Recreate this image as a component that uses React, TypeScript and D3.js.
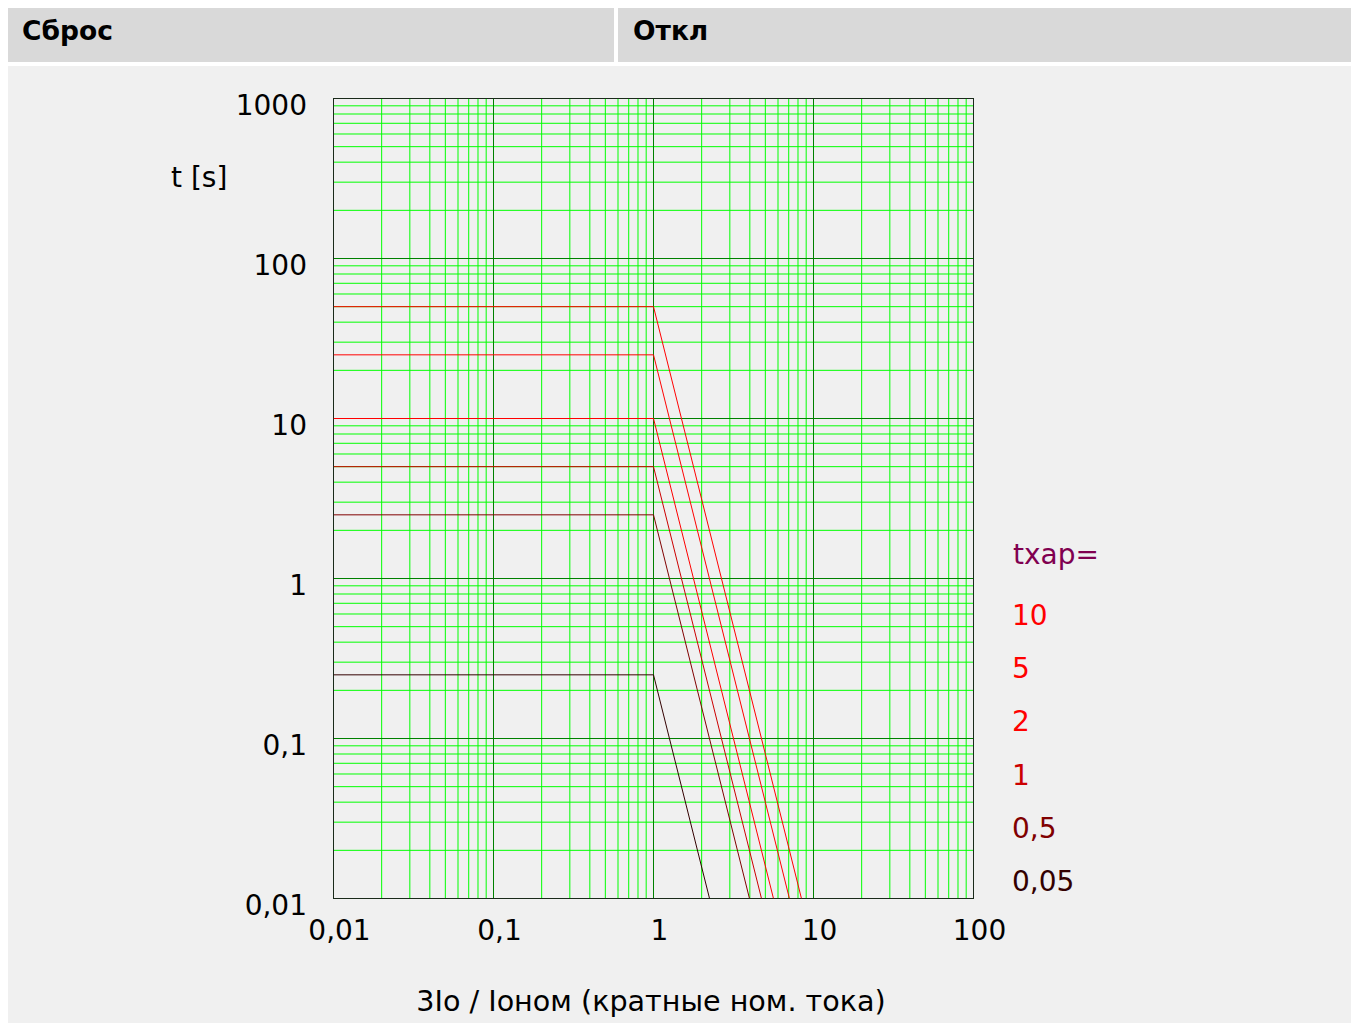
import React from "react";
import * as d3 from "d3";

// ---- data ----
const txapLabels = ["10", "5", "2", "1", "0,5", "0,05"];
const txapColors = ["#ff0000", "#ff0000", "#ff0000", "#cc0000", "#800000", "#330000"];
// each curve: [current multiple, time s]
const curve10: [number, number][] = [[0.01, 50], [1, 50], [8.41, 0.01]];
const curve5: [number, number][] = [[0.01, 25], [1, 25], [7.07, 0.01]];
const curve2: [number, number][] = [[0.01, 10], [1, 10], [5.62, 0.01]];
const curve1: [number, number][] = [[0.01, 5], [1, 5], [4.73, 0.01]];
const curve05: [number, number][] = [[0.01, 2.5], [1, 2.5], [3.98, 0.01]];
const curve005: [number, number][] = [[0.01, 0.25], [1, 0.25], [2.24, 0.01]];
const curves = [curve10, curve5, curve2, curve1, curve05, curve005];

const xTicks = [0.01, 0.1, 1, 10, 100];
const xTickLabels = ["0,01", "0,1", "1", "10", "100"];
const yTicks = [0.01, 0.1, 1, 10, 100, 1000];
const yTickLabels = ["0,01", "0,1", "1", "10", "100", "1000"];

const headerLeft = "Сброс";
const headerRight = "Откл";
const yTitle = "t [s]";
const xTitle = "3Io / Ioном (кратные ном. тока)";
const legendTitle = "txap=";

const FONT = "'DejaVu Sans', Verdana, sans-serif";

export default function App() {
  const x = d3.scaleLog().domain([0.01, 100]).range([333.5, 973.5]);
  const y = d3.scaleLog().domain([0.01, 1000]).range([898.5, 98.5]);

  const xMinor: number[] = [];
  for (let e = -2; e < 2; e++) for (let k = 2; k <= 9; k++) xMinor.push(k * Math.pow(10, e));
  const yMinor: number[] = [];
  for (let e = -2; e < 3; e++) for (let k = 2; k <= 9; k++) yMinor.push(k * Math.pow(10, e));

  const line = d3
    .line<[number, number]>()
    .x((d) => x(d[0]))
    .y((d) => y(d[1]));

  const [x0, x1] = x.range();
  const [y0, y1] = y.range();

  return (
    <svg
      width={1351}
      height={1023}
      style={{ display: "block", position: "fixed", left: 0, top: 0 }}
    >
      <rect x={0} y={0} width={1351} height={1023} fill="#ffffff" />
      <rect x={8} y={8} width={606} height={54} fill="#d9d9d9" />
      <rect x={618} y={8} width={733} height={54} fill="#d9d9d9" />
      <rect x={8} y={66} width={1343} height={957} fill="#f0f0f0" />
      <text x={22} y={40} fontFamily={FONT} fontWeight="bold" fontSize={26.5} fill="#000">
        {headerLeft}
      </text>
      <text x={633} y={40} fontFamily={FONT} fontWeight="bold" fontSize={26.5} fill="#000">
        {headerRight}
      </text>

      {/* minor grid */}
      {xMinor.map((v, i) => (
        <line key={"xm" + i} x1={x(v)} x2={x(v)} y1={y1} y2={y0} stroke="#00ff00" strokeWidth={1} />
      ))}
      {yMinor.map((v, i) => (
        <line key={"ym" + i} x1={x0} x2={x1} y1={y(v)} y2={y(v)} stroke="#00ff00" strokeWidth={1} />
      ))}
      {/* decade grid */}
      {xTicks.map((v, i) => (
        <line key={"xd" + i} x1={x(v)} x2={x(v)} y1={y1} y2={y0} stroke="#008000" strokeWidth={1} />
      ))}
      {yTicks.map((v, i) => (
        <line key={"yd" + i} x1={x0} x2={x1} y1={y(v)} y2={y(v)} stroke="#008000" strokeWidth={1} />
      ))}
      <rect x={x0} y={y1} width={x1 - x0} height={y0 - y1} fill="none" stroke="#1a2a1a" strokeWidth={1} />

      {/* curves */}
      <defs>
        <clipPath id="plotclip">
          <rect x={x0} y={y1} width={x1 - x0} height={y0 - y1} />
        </clipPath>
      </defs>
      <g clipPath="url(#plotclip)">
        {curves.map((c, i) => (
          <path key={"c" + i} d={line(c) || ""} fill="none" stroke={txapColors[i]} strokeWidth={1} />
        ))}
      </g>

      {/* tick labels */}
      {yTicks.map((v, i) => (
        <text key={"yl" + i} x={307} y={y(v) + 16} textAnchor="end" fontFamily={FONT} fontSize={28} fill="#000">
          {yTickLabels[i]}
        </text>
      ))}
      {xTicks.map((v, i) => (
        <text key={"xl" + i} x={x(v) + 6} y={940} textAnchor="middle" fontFamily={FONT} fontSize={28} fill="#000">
          {xTickLabels[i]}
        </text>
      ))}

      <text x={171} y={187} fontFamily={FONT} fontSize={28} fill="#000">
        {yTitle}
      </text>
      <text x={651} y={1011} textAnchor="middle" fontFamily={FONT} fontSize={28.6} fill="#000">
        {xTitle}
      </text>

      {/* legend */}
      <text x={1013} y={564} fontFamily={FONT} fontSize={28} fill="#800050">
        {legendTitle}
      </text>
      {txapLabels.map((l, i) => (
        <text key={"lg" + i} x={1012} y={625 + i * 53.2} fontFamily={FONT} fontSize={28} fill={txapColors[i]}>
          {l}
        </text>
      ))}
    </svg>
  );
}
